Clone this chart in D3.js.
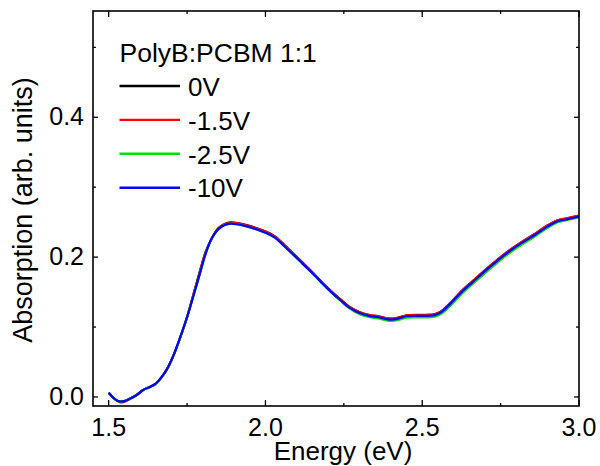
<!DOCTYPE html>
<html>
<head>
<meta charset="utf-8">
<script src="https://cdn.jsdelivr.net/npm/d3@7"></script>
<style>
  html, body { margin: 0; padding: 0; background: #fff; }
  svg { display: block; }
  text { font-family: "Liberation Sans", Arial, sans-serif; fill: #000; }
</style>
</head>
<body>
<svg id="chart" width="600" height="466"></svg>
<script>
// ---- data ----
const energy = [1.50, 1.52, 1.535, 1.55, 1.57, 1.59, 1.61, 1.63, 1.65, 1.67, 1.69, 1.71, 1.73, 1.75, 1.77, 1.79, 1.81, 1.83, 1.85, 1.87, 1.89, 1.91, 1.94, 1.97, 2.00, 2.03, 2.06, 2.09, 2.12, 2.15, 2.18, 2.21, 2.24, 2.27, 2.30, 2.33, 2.36, 2.39, 2.41, 2.43, 2.45, 2.48, 2.51, 2.54, 2.56, 2.58, 2.60, 2.63, 2.66, 2.70, 2.74, 2.78, 2.82, 2.86, 2.90, 2.93, 2.96, 3.00];

const abs0V = [0.006, -0.003, -0.0063, -0.0058, -0.0018, 0.0032, 0.0102, 0.0142, 0.0193, 0.0292, 0.0432, 0.0632, 0.0872, 0.1142, 0.1462, 0.1782, 0.2082, 0.2277, 0.2415, 0.2475, 0.2497, 0.2487, 0.2457, 0.2417, 0.2367, 0.2297, 0.2177, 0.2045, 0.1915, 0.1782, 0.1642, 0.1512, 0.1392, 0.1282, 0.1212, 0.1172, 0.1152, 0.1122, 0.1122, 0.1142, 0.1167, 0.1172, 0.1172, 0.1182, 0.1222, 0.1302, 0.1392, 0.1532, 0.1652, 0.1812, 0.1962, 0.2102, 0.2222, 0.2332, 0.2452, 0.2522, 0.2552, 0.2592];

const abs1_5V = [0.006, -0.0035, -0.0075, -0.0070, -0.0025, 0.0028, 0.0100, 0.0140, 0.0190, 0.0290, 0.0430, 0.0630, 0.0870, 0.1140, 0.1460, 0.1780, 0.2080, 0.2275, 0.2413, 0.2473, 0.2495, 0.2485, 0.2455, 0.2415, 0.2365, 0.2295, 0.2175, 0.2043, 0.1913, 0.1780, 0.1640, 0.1512, 0.1393, 0.1284, 0.1214, 0.1174, 0.1154, 0.1124, 0.1124, 0.1144, 0.1169, 0.1174, 0.1174, 0.1184, 0.1225, 0.1305, 0.1395, 0.1535, 0.1655, 0.1815, 0.1965, 0.2105, 0.2225, 0.2335, 0.2455, 0.2525, 0.2555, 0.2593];

const abs2_5V = [0.006, -0.003, -0.0065, -0.0060, -0.0020, 0.0030, 0.0098, 0.0136, 0.0185, 0.0285, 0.0428, 0.0628, 0.0878, 0.1138, 0.1438, 0.1748, 0.2058, 0.2278, 0.2398, 0.2458, 0.2478, 0.2468, 0.2438, 0.2398, 0.2348, 0.2278, 0.2158, 0.2028, 0.1898, 0.1768, 0.1628, 0.1495, 0.1372, 0.1260, 0.1185, 0.1145, 0.1122, 0.1092, 0.1090, 0.1108, 0.1133, 0.1138, 0.1138, 0.1148, 0.1185, 0.1262, 0.1352, 0.1492, 0.1612, 0.1772, 0.1922, 0.2064, 0.2186, 0.2298, 0.2420, 0.2494, 0.2528, 0.2570];

const abs10V = [0.006, -0.003, -0.0065, -0.0060, -0.0020, 0.0030, 0.0100, 0.0140, 0.0190, 0.0290, 0.0430, 0.0630, 0.0880, 0.1140, 0.1440, 0.1750, 0.2060, 0.2280, 0.2400, 0.2460, 0.2480, 0.2470, 0.2440, 0.2400, 0.2350, 0.2280, 0.2160, 0.2030, 0.1900, 0.1770, 0.1630, 0.1500, 0.1380, 0.1270, 0.1200, 0.1160, 0.1140, 0.1110, 0.1110, 0.1130, 0.1155, 0.1160, 0.1160, 0.1170, 0.1210, 0.1290, 0.1380, 0.1520, 0.1640, 0.1800, 0.1950, 0.2090, 0.2210, 0.2320, 0.2440, 0.2510, 0.2540, 0.2580];

const seriesNames = ["0V", "-1.5V", "-2.5V", "-10V"];
const seriesColors = ["#000000", "#ff0000", "#00e000", "#0000ff"];
const seriesValues = [abs0V, abs1_5V, abs2_5V, abs10V];

const xMajorTicks = [1.5, 2.0, 2.5, 3.0];
const xMinorTicks = [1.75, 2.25, 2.75];
const yMajorTicks = [0.0, 0.2, 0.4];
const yMinorTicks = [0.1, 0.3, 0.5];

const legendTitle = "PolyB:PCBM 1:1";
const xTitle = "Energy (eV)";
const yTitle = "Absorption (arb. units)";

// ---- layout ----
const L = 93, R = 579, T = 11, B = 406;
const svg = d3.select("#chart");

const x = d3.scaleLinear().domain([1.45, 3.0]).range([L, R]);
const y = d3.scaleLinear().domain([-0.0129, 0.552]).range([B, T]);

// lines
const line = d3.line()
  .x((d, i) => x(energy[i]))
  .y(d => y(d))
  .curve(d3.curveCatmullRom.alpha(0.5));

svg.append("clipPath").attr("id", "clip")
  .append("rect").attr("x", L).attr("y", T).attr("width", R - L).attr("height", B - T);

const g = svg.append("g").attr("clip-path", "url(#clip)");
seriesValues.forEach((vals, k) => {
  g.append("path")
    .datum(vals)
    .attr("d", line)
    .attr("fill", "none")
    .attr("stroke", seriesColors[k])
    .attr("stroke-width", 2.2)
    .attr("stroke-linejoin", "round");
});

// frame
svg.append("rect")
  .attr("x", L).attr("y", T).attr("width", R - L).attr("height", B - T)
  .attr("fill", "none").attr("stroke", "#000").attr("stroke-width", 1.6);

// ticks (inward, mirrored)
const tickG = svg.append("g").attr("stroke", "#000").attr("stroke-width", 1.3);
function xTick(v, len) {
  tickG.append("line").attr("x1", x(v)).attr("x2", x(v)).attr("y1", B).attr("y2", B - len);
  tickG.append("line").attr("x1", x(v)).attr("x2", x(v)).attr("y1", T).attr("y2", T + len);
}
function yTick(v, len) {
  tickG.append("line").attr("y1", y(v)).attr("y2", y(v)).attr("x1", L).attr("x2", L + len);
  tickG.append("line").attr("y1", y(v)).attr("y2", y(v)).attr("x1", R).attr("x2", R - len);
}
xMajorTicks.forEach(v => xTick(v, 6));
xMinorTicks.forEach(v => xTick(v, 3));
yMajorTicks.forEach(v => yTick(v, 5));
yMinorTicks.forEach(v => yTick(v, 3));

// tick labels
svg.append("g").selectAll("text").data(xMajorTicks).join("text")
  .attr("x", d => x(d)).attr("y", 436)
  .attr("text-anchor", "middle").attr("font-size", 25)
  .text(d => d3.format(".1f")(d));

svg.append("g").selectAll("text").data(yMajorTicks).join("text")
  .attr("x", 84).attr("y", d => y(d) + 8)
  .attr("text-anchor", "end").attr("font-size", 25)
  .text(d => d3.format(".1f")(d));

// axis titles
svg.append("text")
  .attr("x", 343).attr("y", 460)
  .attr("text-anchor", "middle").attr("font-size", 26)
  .text(xTitle);

svg.append("text")
  .attr("transform", "translate(32,210) rotate(-90)")
  .attr("text-anchor", "middle").attr("font-size", 27)
  .text(yTitle);

// legend
svg.append("text").attr("x", 119.5).attr("y", 62).attr("font-size", 26.5).text(legendTitle);
seriesNames.forEach((name, k) => {
  const ly = 86 + k * 33.9;
  svg.append("line").attr("x1", 119.5).attr("x2", 180).attr("y1", ly).attr("y2", ly)
    .attr("stroke", seriesColors[k]).attr("stroke-width", 2.4);
  svg.append("text").attr("x", 188).attr("y", ly + 9.7).attr("font-size", 26).text(name);
});
</script>
</body>
</html>
